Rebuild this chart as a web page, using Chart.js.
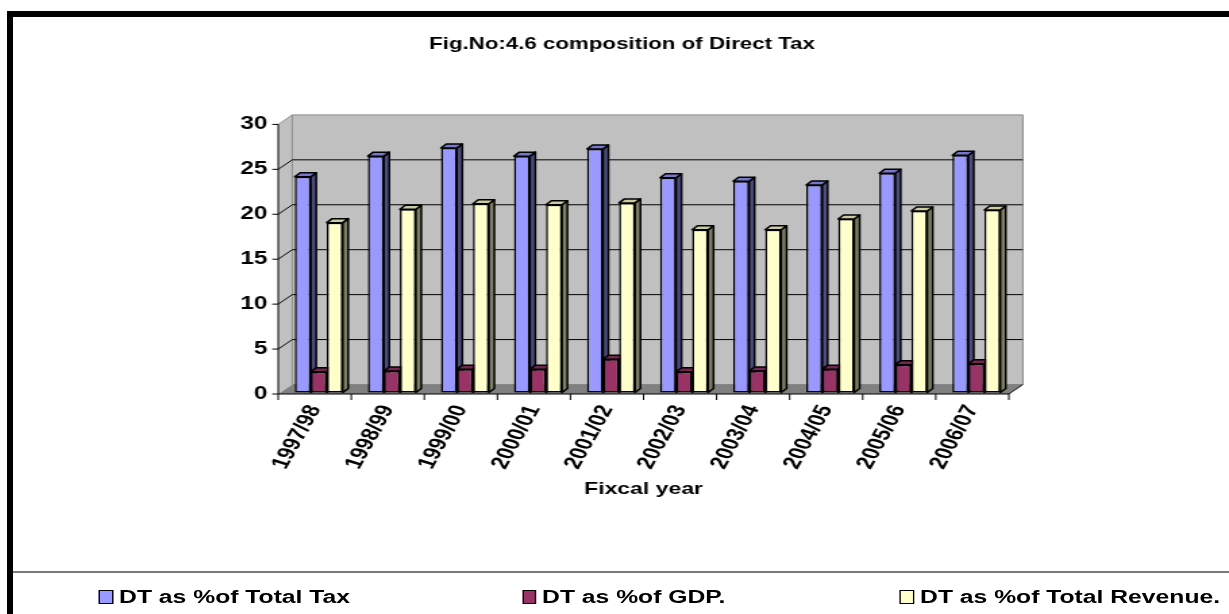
<!DOCTYPE html>
<html>
<head>
<meta charset="utf-8">
<title>Fig.No:4.6 composition of Direct Tax</title>
<script src="https://cdn.jsdelivr.net/npm/chart.js@4.4.1/dist/chart.umd.min.js"></script>
<style>
html,body{margin:0;padding:0;background:#fff;overflow:hidden;}
body{width:1229px;height:614px;position:relative;font-family:"Liberation Sans",Arial,sans-serif;}
/* chart is laid out narrow and widened, like the original Excel figure */
#stage{position:absolute;left:0;top:0;width:910px;height:614px;transform:scaleX(1.3505);transform-origin:0 0;}
#stage canvas{display:block;}
#legend{position:absolute;left:0;top:586px;width:910px;height:22px;}
.item{position:absolute;top:0;height:22px;line-height:22px;font-weight:bold;font-size:18.3px;color:#000;white-space:nowrap;}
.item i{display:inline-block;width:8.5px;height:12px;border:1px solid #000;margin-right:4.4px;vertical-align:-1px;}
.frame-top{position:absolute;left:7px;top:11px;right:0;height:6px;background:#000;}
.frame-left{position:absolute;left:7px;top:11px;width:6px;bottom:0;background:#000;}
.sep{position:absolute;left:13px;right:0;top:571px;height:2px;background:#7a7a7a;}
</style>
</head>
<body>
<div id="stage">
  <canvas id="dtChart"></canvas>
  <div id="legend"></div>
</div>
<div class="sep"></div>
<div class="frame-top"></div>
<div class="frame-left"></div>

<script>
// ---- data ----
const years = ["1997/98","1998/99","1999/00","2000/01","2001/02","2002/03","2003/04","2004/05","2005/06","2006/07"];
const dtTotalTax     = [24.0, 26.3, 27.2, 26.3, 27.1, 23.9, 23.5, 23.1, 24.4, 26.4];
const dtGdp          = [2.3, 2.4, 2.6, 2.6, 3.7, 2.3, 2.4, 2.6, 3.1, 3.2];
const dtTotalRevenue = [18.9, 20.4, 21.0, 20.9, 21.1, 18.1, 18.1, 19.3, 20.2, 20.3];
const seriesNames = ["DT as %of Total Tax", "DT as %of GDP.", "DT as %of Total Revenue."];
const yTicks = [0, 5, 10, 15, 20, 25, 30];

const FONT = "'Liberation Sans', Arial, sans-serif";
const LEGEND_X = [73.3, 386.5, 666.4];

// depth of walls / bars (oblique 3d look)
const WALL = {dx: 10.4, dy: -9.5};
const BOX = {dx: 4, dy: -4, sx: 3, sy: -1.5};

function poly(ctx, pts, fill, stroke){
  ctx.beginPath();
  ctx.moveTo(pts[0][0], pts[0][1]);
  for(let i=1;i<pts.length;i++) ctx.lineTo(pts[i][0], pts[i][1]);
  ctx.closePath();
  if(fill){ ctx.fillStyle = fill; ctx.fill(); }
  if(stroke){ ctx.strokeStyle = stroke; ctx.stroke(); }
}

function line(ctx, x1, y1, x2, y2, color, w){
  ctx.beginPath();
  ctx.moveTo(x1, y1); ctx.lineTo(x2, y2);
  ctx.strokeStyle = color; ctx.lineWidth = w; ctx.stroke();
}

// walls, floor, grid and the boxed columns
const box3d = {
  id: "box3d",
  beforeDatasetsDraw(chart){
    const {ctx, chartArea: a, scales: {x, y}} = chart;
    const L = a.left, R = a.right;
    const yTop = y.getPixelForValue(yTicks[yTicks.length-1]);
    const yBot = y.getPixelForValue(yTicks[0]);
    const dx = WALL.dx, dy = WALL.dy;

    ctx.save();
    ctx.lineWidth = 1;
    // left side wall
    poly(ctx, [[L,yTop],[L+dx,yTop+dy],[L+dx,yBot+dy],[L,yBot]], "#c0c0c0");
    // back wall
    poly(ctx, [[L+dx,yTop+dy],[R+dx,yTop+dy],[R+dx,yBot+dy],[L+dx,yBot+dy]], "#c0c0c0", "#8c8c8c");
    // floor
    poly(ctx, [[L,yBot],[R,yBot],[R+dx,yBot+dy],[L+dx,yBot+dy]], "#808080");

    // grid lines on back and side wall
    yTicks.slice(1, -1).forEach(v => {
      const py = y.getPixelForValue(v);
      line(ctx, L, py, L+dx, py+dy, "#000", 1);
      line(ctx, L+dx, py+dy, R+dx, py+dy, "#000", 1);
    });
    line(ctx, L, yTop, L+dx, yTop+dy, "#8c8c8c", 1);

    // value axis + ticks
    line(ctx, L, yTop, L, yBot, "#000", 1);
    yTicks.forEach(v => {
      const py = y.getPixelForValue(v);
      line(ctx, L-4.4, py, L, py, "#000", 1);
    });
    // category axis + ticks
    line(ctx, L, yBot, R, yBot, "#000", 1);
    line(ctx, R, yBot, R+dx, yBot+dy, "#000", 1);
    const step = (R - L) / years.length;
    for(let i=0;i<=years.length;i++){
      line(ctx, L + i*step, yBot, L + i*step, yBot + 6, "#000", 1);
    }
    ctx.restore();

    // columns: side + top faces, then the library's bar element as the front face
    ctx.save();
    ctx.translate(BOX.sx, BOX.sy);
    ctx.lineJoin = "round";
    chart.data.datasets.forEach((ds, i) => {
      const meta = chart.getDatasetMeta(i);
      meta.data.forEach(bar => {
        const p = bar.getProps(["x","y","base","width"], true);
        const l = p.x - p.width/2, r = p.x + p.width/2;
        ctx.lineWidth = 1.5;
        poly(ctx, [[r,p.y],[r+BOX.dx,p.y+BOX.dy],[r+BOX.dx,p.base+BOX.dy],[r,p.base]], ds.sideColor, "#000");
        poly(ctx, [[l,p.y],[l+BOX.dx,p.y+BOX.dy],[r+BOX.dx,p.y+BOX.dy],[r,p.y]], ds.topColor, "#000");
        bar.draw(ctx);
      });
    });
    ctx.restore();
    return false;
  }
};

const ctx = document.getElementById("dtChart").getContext("2d");
const chart = new Chart(ctx, {
  type: "bar",
  data: {
    labels: years,
    datasets: [
      {label: seriesNames[0], data: dtTotalTax, backgroundColor: "#9999ff", sideColor: "#4d4d80", topColor: "#7777cc"},
      {label: seriesNames[1], data: dtGdp, backgroundColor: "#993366", sideColor: "#4d1a33", topColor: "#732650"},
      {label: seriesNames[2], data: dtTotalRevenue, backgroundColor: "#ffffcc", sideColor: "#808066", topColor: "#cccca3"}
    ]
  },
  options: {
    responsive: true,
    maintainAspectRatio: false,
    animation: false,
    devicePixelRatio: 1,
    layout: {padding: {left: 100, right: 88.8, top: 20, bottom: 110}},
    datasets: {bar: {borderColor: "#000", borderWidth: 1.5, borderSkipped: false, categoryPercentage: 0.657, barPercentage: 1}},
    plugins: {
      legend: {display: false},
      tooltip: {enabled: false},
      title: {
        display: true,
        text: "Fig.No:4.6 composition of Direct Tax",
        color: "#000",
        font: {family: FONT, size: 16.5, weight: "bold"},
        padding: {top: 14.1, bottom: 70.5}
      }
    },
    scales: {
      x: {
        grid: {display: false, drawTicks: false},
        border: {display: false},
        ticks: {color: "#000", font: {family: FONT, size: 18.5, weight: "bold"}, minRotation: 67, maxRotation: 67, padding: 8, autoSkip: false},
        title: {display: true, text: "Fixcal year", color: "#000", font: {family: FONT, size: 17, weight: "bold"}, padding: {top: 0, bottom: 4.2}},
        afterFit(s){ s.height = 110; }
      },
      y: {
        min: yTicks[0],
        max: yTicks[yTicks.length-1],
        grid: {display: false, drawTicks: false},
        border: {display: false},
        ticks: {stepSize: 5, color: "#000", font: {family: FONT, size: 18, weight: "bold"}, padding: 8},
        afterFit(s){ s.width = 106; }
      },
      // empty right-hand band so the plot sits left of the title centre
      pad: {
        type: "linear",
        position: "right",
        display: true,
        grid: {display: false, drawTicks: false},
        border: {display: false},
        ticks: {display: false},
        afterFit(s){ s.width = 74.2; }
      }
    }
  },
  plugins: [box3d]
});

// legend from the datasets
const legendEl = document.getElementById("legend");
chart.data.datasets.forEach((ds, i) => {
  const item = document.createElement("div");
  item.className = "item";
  item.style.left = LEGEND_X[i] + "px";
  item.innerHTML = `<i style="background:${ds.backgroundColor}"></i>${ds.label}`;
  legendEl.appendChild(item);
});
</script>
</body>
</html>
